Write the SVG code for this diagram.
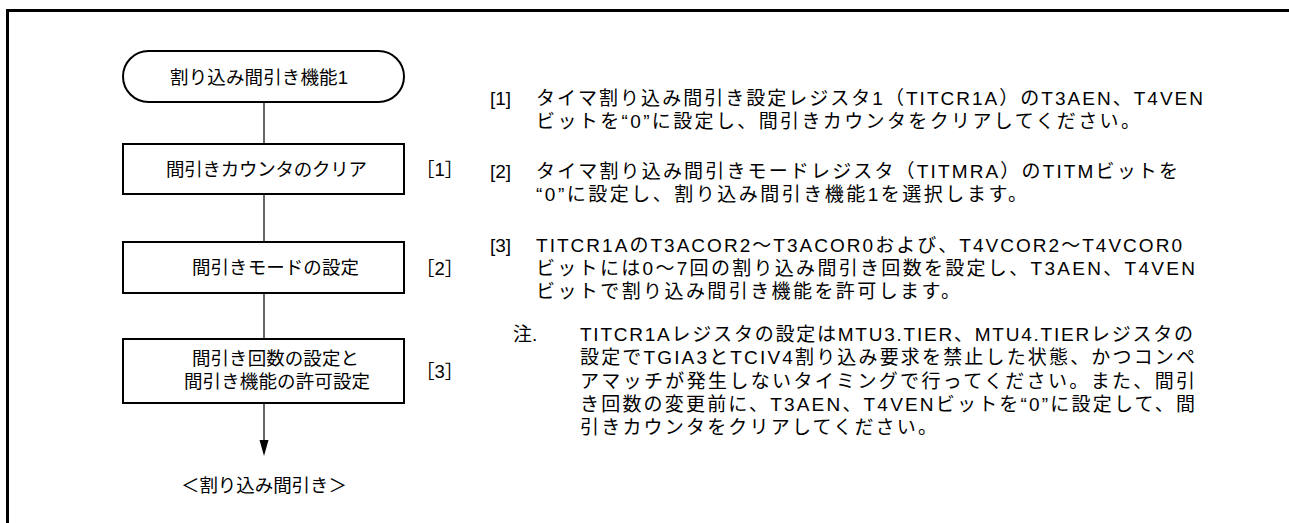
<svg xmlns="http://www.w3.org/2000/svg" width="1289" height="523" viewBox="0 0 1289 523">
<style>
.t{font-family:"Liberation Sans","Noto Sans CJK JP",sans-serif;font-size:18.5px;fill:#000;}
.r{font-family:"Liberation Sans","Noto Sans CJK JP",sans-serif;font-size:19px;fill:#000;}
.box{fill:#fff;stroke:#000;stroke-width:2;}
.ln{stroke:#000;stroke-width:1.2;fill:none;}
</style>
<rect width="1289" height="523" fill="#fff"/>
<g id="frame">
<path d="M7.5,523 L7.5,10.5 L1289,10.5" fill="none" stroke="#000" stroke-width="3"/>
</g>
<g id="connectors">
<line class="ln" x1="264" y1="102" x2="264" y2="144"/>
<line class="ln" x1="264" y1="194" x2="264" y2="242"/>
<line class="ln" x1="264" y1="293" x2="264" y2="339"/>
<path d="M264,403 L264,440" class="ln"/>
<path d="M259.5,440 L268.5,440 L264,456 Z" fill="#000"/>
</g>
<g id="start">
<rect class="box" x="123" y="51" width="281" height="51" rx="25.5" ry="25.5"/>
<text class="t" x="170" y="83.5" textLength="178">割り込み間引き機能1</text>
</g>
<g id="step1">
<rect class="box" x="123" y="144" width="281" height="50"/>
<text class="t" x="166" y="175.5" textLength="201">間引きカウンタのクリア</text>
<text class="t" x="416" y="175.5">［1］</text>
</g>
<g id="step2">
<rect class="box" x="123" y="242" width="281" height="51"/>
<text class="t" x="192" y="273.5" textLength="167">間引きモードの設定</text>
<text class="t" x="416" y="274.5">［2］</text>
</g>
<g id="step3">
<rect class="box" x="123" y="339" width="281" height="64"/>
<text class="t" x="192" y="364.5" textLength="167">間引き回数の設定と</text>
<text class="t" x="184" y="388" textLength="186">間引き機能の許可設定</text>
<text class="t" x="416" y="378">［3］</text>
</g>
<g id="end">
<text class="t" x="181" y="492" textLength="166">＜割り込み間引き＞</text>
</g>
<g id="notes">
<text class="r" x="490" y="104.5">[1]</text>
<text class="r" x="536" y="104.5" textLength="667">タイマ割り込み間引き設定レジスタ1（TITCR1A）のT3AEN、T4VEN</text>
<text class="r" x="536" y="127.5" textLength="604">ビットを“0”に設定し、間引きカウンタをクリアしてください。</text>
<text class="r" x="490" y="177.5">[2]</text>
<text class="r" x="536" y="177.5" textLength="642">タイマ割り込み間引きモードレジスタ（TITMRA）のTITMビットを</text>
<text class="r" x="536" y="200.5" textLength="491">“0”に設定し、割り込み間引き機能1を選択します。</text>
<text class="r" x="490" y="251.5">[3]</text>
<text class="r" x="536" y="251.5" textLength="646">TITCR1AのT3ACOR2～T3ACOR0および、T4VCOR2～T4VCOR0</text>
<text class="r" x="536" y="274.5" textLength="659">ビットには0～7回の割り込み間引き回数を設定し、T3AEN、T4VEN</text>
<text class="r" x="536" y="297.5" textLength="424">ビットで割り込み間引き機能を許可します。</text>
<text class="r" x="513" y="340.5">注.</text>
<text class="r" x="580" y="340.5" textLength="613">TITCR1Aレジスタの設定はMTU3.TIER、MTU4.TIERレジスタの</text>
<text class="r" x="580" y="363.5" textLength="615">設定でTGIA3とTCIV4割り込み要求を禁止した状態、かつコンペ</text>
<text class="r" x="580" y="387.5" textLength="615">アマッチが発生しないタイミングで行ってください。また、間引</text>
<text class="r" x="580" y="410.5" textLength="615">き回数の変更前に、T3AEN、T4VENビットを“0”に設定して、間</text>
<text class="r" x="580" y="433.5" textLength="357">引きカウンタをクリアしてください。</text>
</g>
</svg>
